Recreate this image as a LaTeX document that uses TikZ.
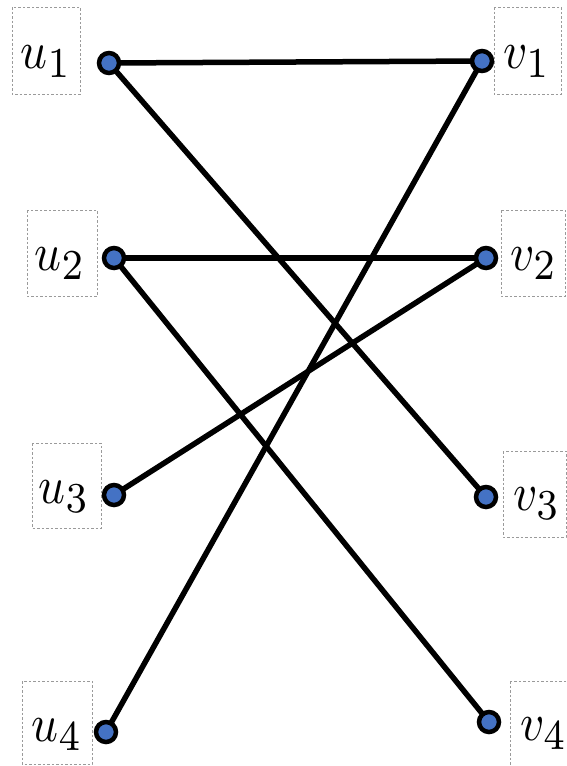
\documentclass[tikz,border=0pt]{standalone}
\usetikzlibrary{backgrounds}
\definecolor{vblue}{HTML}{4472C4}
\definecolor{boxgray}{HTML}{9A9A9A}
\newcommand{\biglbl}[2]{\scalebox{4.7}[5.3]{$#1_{\raisebox{0pt}{\scalebox{1.15}{$\scriptstyle #2$}}}$}}
\tikzset{
  vtx/.style={circle, draw=black, fill=vblue, line width=4.5pt, minimum size=20pt, inner sep=0pt},
  edge/.style={line width=5.5pt, black},
  lblbox/.style={draw=boxgray, line width=1pt, dash pattern=on 2.5pt off 2pt},
  lbl/.style={anchor=base, inner sep=0pt}
}
\begin{document}
\begin{tikzpicture}[x=1pt,y=-1pt]
\useasboundingbox (0,0) rectangle (566,766);
% label boxes
\draw[lblbox] (12,7) rectangle (80,94);
\draw[lblbox] (494,7) rectangle (561,94);
\draw[lblbox] (27,210) rectangle (97,296);
\draw[lblbox] (501,210) rectangle (565,296);
\draw[lblbox] (32,443) rectangle (101,528);
\draw[lblbox] (503,451) rectangle (566,537);
\draw[lblbox] (22,681) rectangle (92,764);
\draw[lblbox] (510,681) rectangle (568,768);
% labels
\node[lbl] (lu1) at (46,68) {\biglbl{u}{1}};
\node[lbl] (lv1) at (527,68) {\biglbl{v}{1}};
\node[lbl] (lu2) at (60,270) {\biglbl{u}{2}};
\node[lbl] (lv2) at (534,270) {\biglbl{v}{2}};
\node[lbl] (lu3) at (64,503) {\biglbl{u}{3}};
\node[lbl] (lv3) at (537,510) {\biglbl{v}{3}};
\node[lbl] (lu4) at (57,741) {\biglbl{u}{4}};
\node[lbl] (lv4) at (544,740) {\biglbl{v}{4}};
% vertices
\node[vtx] (u1) at (109,63) {};
\node[vtx] (v1) at (482,61) {};
\node[vtx] (u2) at (114,258) {};
\node[vtx] (v2) at (486,258) {};
\node[vtx] (u3) at (114,495) {};
\node[vtx] (v3) at (486,497) {};
\node[vtx] (u4) at (106,732) {};
\node[vtx] (v4) at (489,722) {};
% edges
\begin{pgfonlayer}{background}
\draw[edge] (u1.center) -- (v1.center);
\draw[edge] (u1.center) -- (v3.center);
\draw[edge] (v1.center) -- (u4.center);
\draw[edge] (u2.center) -- (v2.center);
\draw[edge] (u2.center) -- (v4.center);
\draw[edge] (v2.center) -- (u3.center);
\end{pgfonlayer}
\end{tikzpicture}
\end{document}
